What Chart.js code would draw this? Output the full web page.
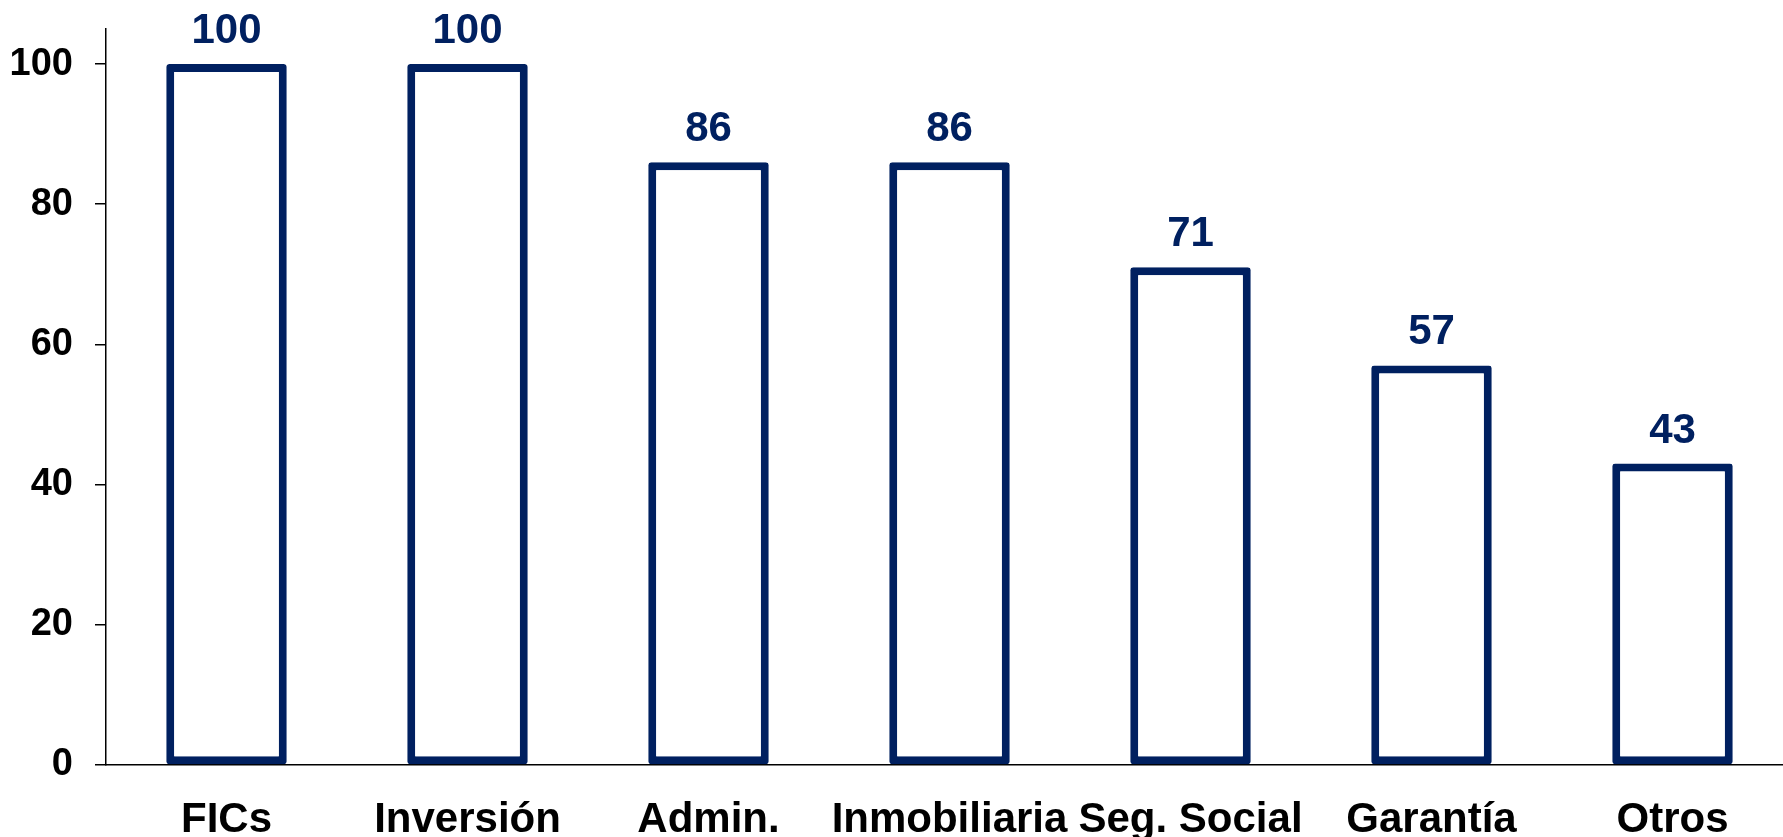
<!DOCTYPE html>
<html>
<head>
<meta charset="utf-8">
<script src="https://cdn.jsdelivr.net/npm/chart.js@4.4.0/dist/chart.umd.min.js"></script>
<style>
  html, body { margin: 0; padding: 0; background: #fff; overflow: hidden; }
  canvas { display: block; }
</style>
</head>
<body>
<canvas id="chart" width="1793" height="837"></canvas>
<script>
const categories = ['FICs', 'Inversión', 'Admin.', 'Inmobiliaria', 'Seg. Social', 'Garantía', 'Otros'];
const values = [100, 100, 86, 86, 71, 57, 43];
const yTicks = [0, 20, 40, 60, 80, 100];

const navy = '#002060';
const fontFamily = '"Liberation Sans", Arial, sans-serif';

// simple value labels above each bar
const barLabels = {
    id: 'barLabels',
    afterDatasetsDraw(chart) {
        const ctx = chart.ctx;
        const meta = chart.getDatasetMeta(0);
        ctx.save();
        ctx.font = 'bold 42px ' + fontFamily;
        ctx.fillStyle = navy;
        ctx.textAlign = 'center';
        ctx.textBaseline = 'alphabetic';
        meta.data.forEach(function(bar, i) {
            ctx.fillText(String(values[i]), bar.x, bar.y - 21);
        });
        ctx.restore();
    }
};

let ctx = document.getElementById('chart');
let barChart = new Chart(ctx, {
    type: 'bar',
    plugins: [barLabels],
    options: {
        responsive: false,
        animation: false,
        devicePixelRatio: 1,
        layout: { padding: { top: 29, left: 0, right: 0, bottom: 0 } },
        plugins: {
            legend: { display: false },
            tooltip: { enabled: false }
        },
        scales: {
            x: {
                grid: { display: false },
                border: { display: true, color: '#000', width: 1.5 },
                ticks: {
                    color: '#000',
                    padding: 22,
                    maxRotation: 0,
                    autoSkip: false,
                    font: { family: fontFamily, size: 42, weight: 'bold' }
                },
                afterFit(scale) {
                    scale.height = 72;
                    scale.paddingLeft = 0;
                    scale.paddingRight = 0;
                }
            },
            y: {
                min: 0,
                max: 105,
                afterBuildTicks(scale) {
                    scale.ticks = yTicks.map(v => ({ value: v }));
                },
                grid: {
                    drawOnChartArea: false,
                    drawTicks: true,
                    tickLength: 11,
                    color: '#000',
                    lineWidth: 1.5
                },
                border: { display: true, color: '#000', width: 1.5 },
                ticks: {
                    color: '#000',
                    padding: 22,
                    font: { family: fontFamily, size: 38, weight: 'bold' }
                },
                afterFit(scale) {
                    scale.width = 106;
                    scale.paddingTop = 0;
                    scale.paddingBottom = 0;
                }
            }
        }
    },
    data: {
        labels: categories,
        datasets: [{
            data: values,
            backgroundColor: '#ffffff',
            borderColor: navy,
            borderWidth: 8,
            borderRadius: 3,
            borderSkipped: false,
            barPercentage: 0.5,
            categoryPercentage: 1.0
        }]
    }
});
</script>
</body>
</html>
